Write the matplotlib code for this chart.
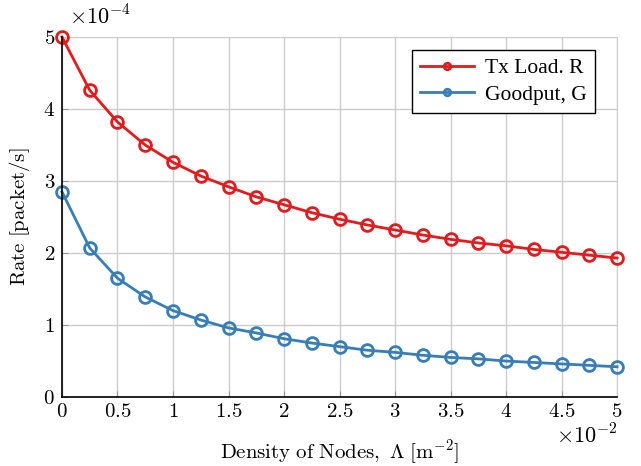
import matplotlib.pyplot as plt

plt.rcParams["mathtext.fontset"] = "cm"
plt.rcParams["font.family"] = ["Liberation Serif", "DejaVu Serif"]

# x in units of 1e-2, y in units of 1e-4
density = [0, 0.25, 0.5, 0.75, 1.0, 1.25, 1.5, 1.75, 2.0, 2.25, 2.5,
           2.75, 3.0, 3.25, 3.5, 3.75, 4.0, 4.25, 4.5, 4.75, 5.0]
tx_load = [5.0, 4.26, 3.82, 3.50, 3.26, 3.07, 2.92, 2.78, 2.67, 2.56, 2.47,
           2.39, 2.32, 2.25, 2.19, 2.14, 2.10, 2.05, 2.01, 1.97, 1.93]
goodput = [2.85, 2.07, 1.65, 1.39, 1.20, 1.07, 0.96, 0.89, 0.81, 0.75, 0.70,
           0.65, 0.62, 0.58, 0.55, 0.53, 0.50, 0.48, 0.46, 0.44, 0.42]

xticks = [0, 0.5, 1, 1.5, 2, 2.5, 3, 3.5, 4, 4.5, 5]
yticks = [0, 1, 2, 3, 4, 5]

RED = "#e41a1c"
BLUE = "#377eb8"

fig = plt.figure(figsize=(6.41, 4.66), dpi=100)
ax = fig.add_axes([0.0967, 0.148, 0.866, 0.7726])

style = dict(marker="o", markersize=8.5, markerfacecolor="none",
             markeredgewidth=2.0, linewidth=2.0, clip_on=False, zorder=3)
ax.plot(density, tx_load, color=RED, label="Tx Load. R", **style)
ax.plot(density, goodput, color=BLUE, label="Goodput, G", **style)

ax.set_xlim(0, 5)
ax.set_ylim(0, 5)
ax.set_xticks(xticks)
ax.set_yticks(yticks)
ax.set_xticklabels(["$%g$" % t for t in xticks])
ax.set_yticklabels(["$%g$" % t for t in yticks])
ax.tick_params(direction="in", length=4, color="#999999", labelsize=15)
ax.tick_params(axis="x", pad=4)
ax.tick_params(axis="y", pad=5)

ax.grid(True, color="#cccccc", linewidth=1.0)
ax.set_axisbelow(True)
for s in ["top", "right"]:
    ax.spines[s].set_color("#cccccc")
for s in ["left", "bottom"]:
    ax.spines[s].set_color("black")
    ax.spines[s].set_linewidth(1.2)
    ax.spines[s].set_zorder(4)

ax.set_xlabel(r"$\mathrm{Density\ of\ Nodes,\ \Lambda\ [m^{-2}]}$", fontsize=15)
ax.xaxis.set_label_coords(0.5, -0.113)
ax.set_ylabel(r"$\mathrm{Rate\ [packet/s]}$", fontsize=15, labelpad=8)

ax.text(0.012, 1.02, r"$\times10^{-4}$", transform=ax.transAxes,
        fontsize=16, ha="left", va="bottom")
ax.text(1.0, -0.077, r"$\times10^{-2}$", transform=ax.transAxes,
        fontsize=16, ha="right", va="top")

leg = ax.legend(loc="upper right", bbox_to_anchor=(0.98, 0.995), fontsize=15.5,
                frameon=True, fancybox=False, edgecolor="black",
                handlelength=2.5, handletextpad=0.5, borderpad=0.4,
                labelspacing=0.3, markerscale=0.55)
leg.get_frame().set_linewidth(1.0)
leg.get_frame().set_alpha(1)

fig.savefig("out.png", dpi=100)
